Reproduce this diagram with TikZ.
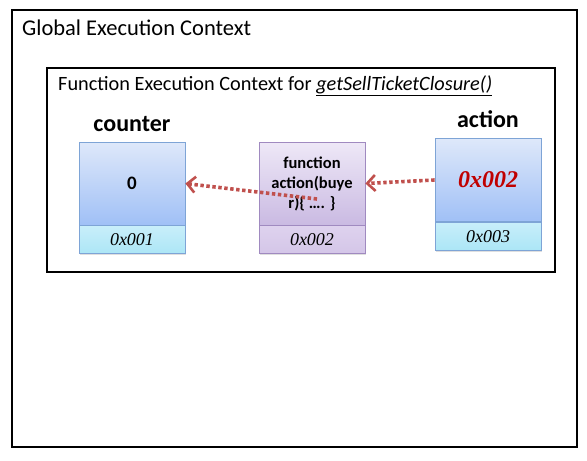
\documentclass[tikz,border=0pt]{standalone}
\usepackage{fontspec}
\setmainfont{Carlito}
\newfontfamily\addrfont{Liberation Serif}
\usetikzlibrary{arrows.meta,positioning,shadows}
\definecolor{arrowcolor}{RGB}{192,80,77}
\definecolor{blueline}{RGB}{126,164,214}
\definecolor{purpleline}{RGB}{160,138,192}
\definecolor{valred}{RGB}{192,0,0}
\tikzset{
	context/.style={
		draw=black,
		line width=2.4pt
	},
	ctxtitle/.style={
		anchor=west,
		inner sep=0pt
	},
	varname/.style={
		font=\fontsize{24}{28}\selectfont\bfseries,
		inner sep=0pt
	},
	valcell/.style={
		rectangle,
		draw=blueline,
		line width=0.8pt,
		top color={rgb,255:red,222;green,232;blue,250},
		bottom color={rgb,255:red,160;green,192;blue,246},
		minimum width=106pt,
		minimum height=83pt,
		inner sep=2pt,
		align=center,
		drop shadow={opacity=0.25,shadow xshift=1.2pt,shadow yshift=-1.5pt}
	},
	addrcell/.style={
		rectangle,
		draw=blueline,
		line width=0.8pt,
		top color={rgb,255:red,200;green,238;blue,250},
		bottom color={rgb,255:red,172;green,230;blue,246},
		minimum width=106pt,
		minimum height=28pt,
		inner sep=0pt,
		font=\addrfont\itshape\fontsize{18}{20}\selectfont,
		drop shadow={opacity=0.25,shadow xshift=1.2pt,shadow yshift=-1.5pt}
	},
	funccell/.style={
		valcell,
		draw=purpleline,
		top color={rgb,255:red,238;green,232;blue,247},
		bottom color={rgb,255:red,202;green,186;blue,226},
		font=\fontsize{16.5}{20}\selectfont\bfseries
	},
	funcaddr/.style={
		addrcell,
		draw=purpleline,
		top color={rgb,255:red,222;green,210;blue,238},
		bottom color={rgb,255:red,212;green,198;blue,232}
	},
	pointer/.style={
		draw=arrowcolor,
		line width=3.6pt,
		dash pattern=on 3.4pt off 2.6pt,
		-{Straight Barb[length=8pt,width=16pt,line width=2.6pt]}
	},
}

\begin{document}
\begin{tikzpicture}[x=1pt,y=-1pt]
		\useasboundingbox (0,0) rectangle (587,461);
		% outer and inner contexts
		\draw [context] (12,10) rectangle (577,447);
		\node (global) [ctxtitle,font=\fontsize{22.5}{26}\selectfont] at (22,28) {Global Execution Context};
		\draw [context] (47,68) rectangle (555,272);
		\node (fctx) [ctxtitle,font=\fontsize{20.3}{24}\selectfont] at (58,86) {Function Execution Context for \textit{\underline{getSellTicketClosure()}}};
		
		% memory cells
		\node (counterval) [valcell,font=\fontsize{19}{22}\selectfont\bfseries] at (132,183.5) {0};
		\node (counteraddr) [addrcell,below=0pt of counterval] {0x001};
		\node (countername) [varname,above=10pt of counterval] {counter};
		
		\node (funcval) [funccell] at (312,183.5) {function\\action(buye\\r)\{ …. \}};
		\node (funcaddrcell) [funcaddr,below=0pt of funcval] {0x002};
		
		\node (actionval) [valcell,font=\addrfont\bfseries\itshape\fontsize{24}{28}\selectfont\color{valred}] at (488,180) {0x002};
		\node (actionaddr) [addrcell,below=0pt of actionval] {0x003};
		\node (actionname) [varname,above=10pt of actionval] {action};
		
		\coordinate (funcstart) at (317,199);
		\draw [pointer] (actionval.west) -- (funcval.east);
		\draw [pointer] (funcstart) -- (counterval.east);
		
\end{tikzpicture}
\end{document}
